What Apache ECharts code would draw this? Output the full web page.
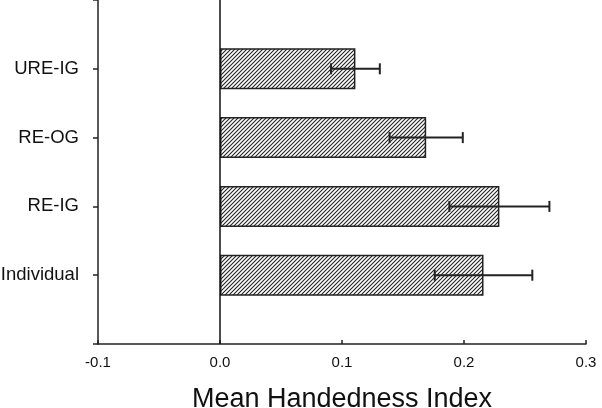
<!DOCTYPE html>
<html lang="en">
<head>
    <meta charset="UTF-8">
    <title>Mean Handedness Index</title>
    <script src="https://cdn.jsdelivr.net/npm/echarts@6/dist/echarts.min.js"></script>
    <style>
        html, body { margin: 0; padding: 0; background: #fff; }
        #main { width: 602px; height: 408px; }
    </style>
</head>
<body>
<div id="main"></div>
<script type="text/javascript">
    // groups, bottom to top
    var groups = ['Individual', 'RE-IG', 'RE-OG', 'URE-IG'];
    var means = [0.216, 0.229, 0.169, 0.111];
    var errors = [0.040, 0.041, 0.030, 0.020];
    var xTicks = [-0.1, 0.0, 0.1, 0.2, 0.3];

    // empty slots above and below so the bars sit at 1..4 of a 0..5 axis
    var cats = [''].concat(groups, ['']);
    var barData = ['-'].concat(means, ['-']);
    var errData = [];
    for (var i = 0; i < groups.length; i++) {
        errData.push([i + 1, means[i] - errors[i], means[i] + errors[i]]);
    }

    // hatch pattern
    var hatch = document.createElement('canvas');
    hatch.width = 4;
    hatch.height = 4;
    var ctx = hatch.getContext('2d');
    ctx.fillStyle = '#fff';
    ctx.fillRect(0, 0, 4, 4);
    ctx.strokeStyle = '#222';
    ctx.lineWidth = 1.1;
    ctx.beginPath();
    ctx.moveTo(-1, 5); ctx.lineTo(5, -1);
    ctx.moveTo(-1, 1); ctx.lineTo(1, -1);
    ctx.moveTo(3, 5); ctx.lineTo(5, 3);
    ctx.stroke();

    var myChart = echarts.init(document.getElementById('main'));
    var font = 'Liberation Sans, Arial, Helvetica, sans-serif';

    myChart.setOption({
        animation: false,
        grid: { left: 98, right: 16, top: 0, bottom: 64, outerBoundsMode: 'none', containLabel: false },
        xAxis: {
            type: 'value',
            min: xTicks[0],
            max: xTicks[xTicks.length - 1],
            interval: 0.1,
            name: 'Mean Handedness Index',
            nameLocation: 'middle',
            nameGap: 42,
            nameTextStyle: { fontSize: 27, color: '#111', fontFamily: font },
            axisLine: { show: true, lineStyle: { color: '#222', width: 1.5 } },
            axisTick: { show: true, inside: true, length: 4, lineStyle: { color: '#222', width: 1.5 } },
            axisLabel: {
                fontSize: 15, color: '#111', fontFamily: font, margin: 11,
                formatter: function (v) { return v.toFixed(1); }
            },
            splitLine: { show: false }
        },
        yAxis: {
            type: 'category',
            data: cats,
            boundaryGap: false,
            axisLine: { show: true, onZero: false, lineStyle: { color: '#222', width: 1.5 } },
            axisTick: { show: true, length: 5, lineStyle: { color: '#222', width: 1.5 } },
            axisLabel: { fontSize: 18.5, color: '#111', fontFamily: font, margin: 19 },
            splitLine: { show: false }
        },
        series: [{
            type: 'bar',
            data: barData,
            barWidth: 41,
            itemStyle: {
                color: { image: hatch, repeat: 'repeat' },
                borderColor: '#222',
                borderWidth: 1.5
            },
            markLine: {
                silent: true,
                symbol: 'none',
                label: { show: false },
                lineStyle: { color: '#111', width: 1.5, type: 'solid' },
                data: [{ xAxis: 0 }]
            }
        }, {
            type: 'custom',
            data: errData,
            encode: { x: [1, 2], y: 0 },
            z: 5,
            renderItem: function (params, api) {
                var y = api.value(0);
                var lo = api.coord([api.value(1), y]);
                var hi = api.coord([api.value(2), y]);
                var h = 5.5;
                var st = { stroke: '#222', lineWidth: 2 };
                return {
                    type: 'group',
                    children: [
                        { type: 'line', shape: { x1: lo[0], y1: lo[1], x2: hi[0], y2: hi[1] }, style: st },
                        { type: 'line', shape: { x1: lo[0], y1: lo[1] - h, x2: lo[0], y2: lo[1] + h }, style: st },
                        { type: 'line', shape: { x1: hi[0], y1: hi[1] - h, x2: hi[0], y2: hi[1] + h }, style: st }
                    ]
                };
            }
        }]
    });
</script>
</body>
</html>
